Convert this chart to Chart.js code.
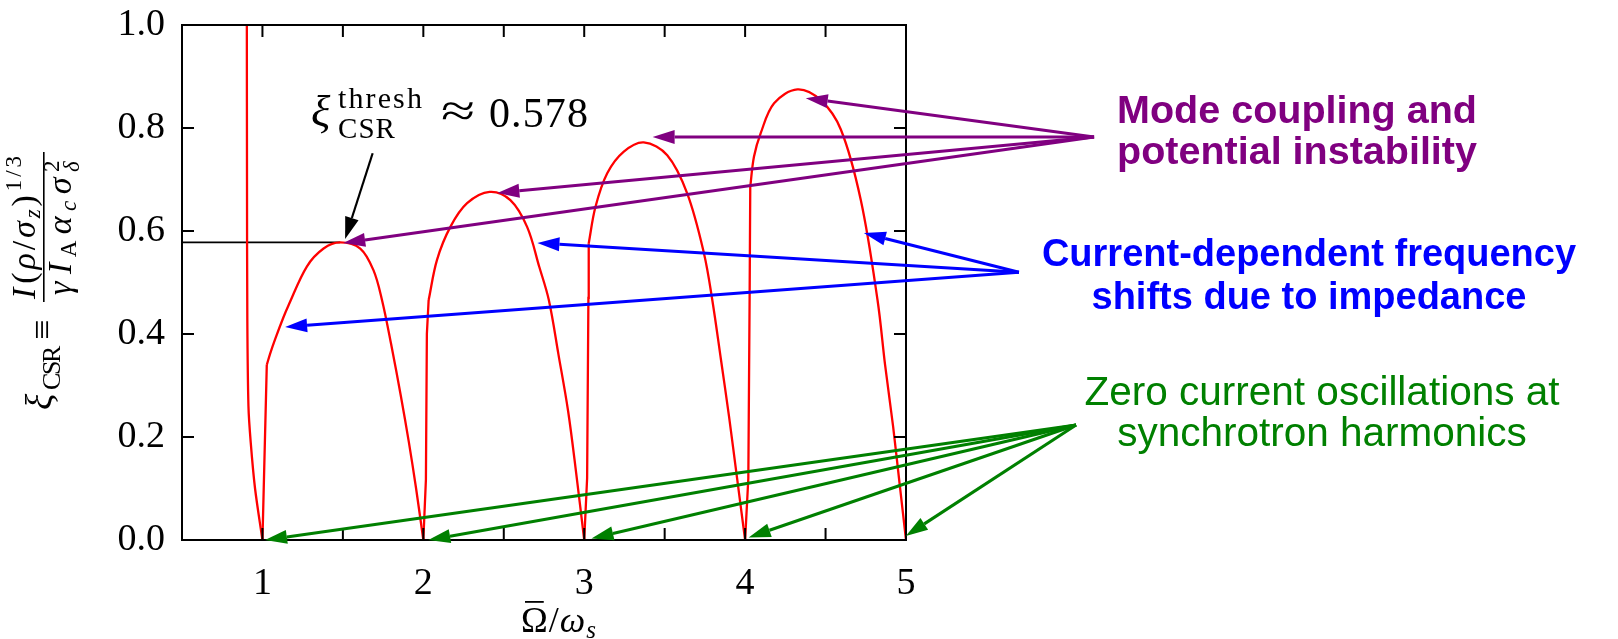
<!DOCTYPE html>
<html>
<head>
<meta charset="utf-8">
<script src="https://cdn.jsdelivr.net/npm/chart.js@4.4.1/dist/chart.umd.min.js"></script>
<style>
  html, body { margin: 0; padding: 0; background: #fff; }
  #wrap { width: 1618px; height: 639px; }
</style>
</head>
<body>
<div id="wrap"><canvas id="myChart" width="1618" height="639"></canvas></div>
<script>
// red curve (x = Omega/omega_s, y = xi_CSR)
// left branch coming down from the top
var branchX = [0.903, 0.904, 0.906, 0.913, 0.927, 0.954, 1.0];
var branchY = [1.0, 0.70, 0.43, 0.26, 0.19, 0.10, 0.0];
// near-vertical jumps at each harmonic (null = break)
var jumpX = [1.0, 1.027, null, 2.0, 2.016, 2.022, 2.033, null, 3.0, 3.018, 3.026, 3.028, null, 4.0, 4.02, 4.028, 4.032];
var jumpY = [0.0, 0.34, null, 0.0, 0.117, 0.40, 0.466, null, 0.0, 0.12, 0.47, 0.576, null, 0.0, 0.12, 0.47, 0.686];
// the four arcs
var arc1X = [1.027, 1.048, 1.079, 1.13, 1.161, 1.276, 1.38, 1.483, 1.608, 1.69, 1.743, 1.80, 1.86, 1.91, 1.955, 2.0];
var arc1Y = [0.34, 0.362, 0.39, 0.432, 0.455, 0.531, 0.566, 0.578, 0.566, 0.524, 0.466, 0.38, 0.28, 0.19, 0.10, 0.0];
var arc2X = [2.033, 2.085, 2.168, 2.272, 2.412, 2.541, 2.645, 2.72, 2.78, 2.84, 2.90, 2.95, 3.0];
var arc2Y = [0.466, 0.544, 0.608, 0.654, 0.676, 0.66, 0.608, 0.531, 0.466, 0.36, 0.25, 0.13, 0.0];
var arc3X = [3.028, 3.07, 3.143, 3.246, 3.37, 3.516, 3.64, 3.744, 3.796, 3.85, 3.90, 3.95, 4.0];
var arc3Y = [0.576, 0.647, 0.712, 0.754, 0.772, 0.747, 0.673, 0.557, 0.466, 0.35, 0.24, 0.12, 0.0];
var arc4X = [4.032, 4.055, 4.097, 4.18, 4.325, 4.47, 4.595, 4.719, 4.823, 4.87, 4.92, 4.96, 5.0];
var arc4Y = [0.686, 0.744, 0.79, 0.848, 0.875, 0.854, 0.797, 0.66, 0.466, 0.34, 0.22, 0.11, 0.0];

// threshold line
var threshX = [0.5, 1.483];
var threshY = [0.578, 0.578];

// arrows (data units), tail shared per group
var modeFrom = [6.169, 0.7825];
var modeToX = [1.502, 2.460, 3.425, 4.377];
var modeToY = [0.5767, 0.674, 0.7825, 0.858];
var shiftFrom = [5.702, 0.520];
var shiftToX = [1.141, 2.709, 4.738];
var shiftToY = [0.4136, 0.5767, 0.596];
var zeroFrom = [6.057, 0.2233];
var zeroToX = [1.016, 2.031, 3.045, 4.022, 4.999];
var zeroToY = [0.0, 0.0, 0.003, 0.005, 0.008];
var threshArrowX = [1.685, 1.514];
var threshArrowY = [0.751, 0.5845];

var serif = "'Liberation Serif'";
var sans = "'Liberation Sans'";

function pts(xs, ys) {
  return xs.map(function (x, i) { return x === null ? { x: null, y: null } : { x: x, y: ys[i] }; });
}

function redLine(xs, ys, tension) {
  return {
    data: pts(xs, ys),
    showLine: true,
    borderColor: '#ff0000',
    borderWidth: 2.3,
    pointRadius: 0,
    spanGaps: false,
    tension: tension
  };
}

function arrow(ctx, x1, y1, x2, y2, color, lw) {
  var head = 22, half = 7;
  var a = Math.atan2(y2 - y1, x2 - x1);
  var bx = x2 - head * Math.cos(a), by = y2 - head * Math.sin(a);
  ctx.strokeStyle = color;
  ctx.fillStyle = color;
  ctx.lineWidth = lw;
  ctx.beginPath();
  ctx.moveTo(x1, y1);
  ctx.lineTo(bx, by);
  ctx.stroke();
  ctx.beginPath();
  ctx.moveTo(x2, y2);
  ctx.lineTo(bx + half * Math.sin(a), by - half * Math.cos(a));
  ctx.lineTo(bx - half * Math.sin(a), by + half * Math.cos(a));
  ctx.closePath();
  ctx.fill();
}

// draw a run of text pieces; extra room up to targetW is spread between letters
function run(ctx, pieces, x, y, targetW) {
  var w = 0, n = 0;
  pieces.forEach(function (p) {
    ctx.font = p.f;
    p.w = ctx.measureText(p.t).width;
    if (!p.stack) { w += p.w + (p.gap || 0); n += p.t.length; }
  });
  var ls = targetW ? (targetW - w) / n : 0;
  var cx = 0, prevX = 0;
  pieces.forEach(function (p) {
    ctx.font = p.f;
    var px = p.stack ? prevX : cx + (p.gap || 0);
    var q = px;
    Array.from(p.t).forEach(function (c) {
      ctx.fillText(c, x + q, y + (p.dy || 0));
      q += ctx.measureText(c).width + ls;
    });
    if (!p.stack) cx = q;
    prevX = px;
  });
}

var decor = {
  id: 'decor',
  afterDatasetsDraw: function (chart) {
    var ctx = chart.ctx, a = chart.chartArea;
    var xs = chart.scales.x, ys = chart.scales.y;
    ctx.save();
    ctx.strokeStyle = '#000';
    ctx.lineWidth = 2;
    ctx.strokeRect(a.left, a.top, a.right - a.left, a.bottom - a.top);
    ctx.beginPath();
    xs.ticks.forEach(function (t) {
      var p = xs.getPixelForValue(t.value);
      ctx.moveTo(p, a.bottom); ctx.lineTo(p, a.bottom - 12);
      ctx.moveTo(p, a.top); ctx.lineTo(p, a.top + 12);
    });
    ys.ticks.forEach(function (t) {
      var p = ys.getPixelForValue(t.value);
      ctx.moveTo(a.left, p); ctx.lineTo(a.left + 12, p);
      ctx.moveTo(a.right, p); ctx.lineTo(a.right - 12, p);
    });
    ctx.stroke();
    ctx.restore();
  },
  afterDraw: function (chart) {
    var ctx = chart.ctx;
    var xs = chart.scales.x, ys = chart.scales.y;
    var X = function (v) { return xs.getPixelForValue(v); };
    var Y = function (v) { return ys.getPixelForValue(v); };
    ctx.save();
    ctx.lineCap = 'butt';

    modeToX.forEach(function (v, i) {
      arrow(ctx, X(modeFrom[0]), Y(modeFrom[1]), X(v), Y(modeToY[i]), '#800080', 3);
    });
    shiftToX.forEach(function (v, i) {
      arrow(ctx, X(shiftFrom[0]), Y(shiftFrom[1]), X(v), Y(shiftToY[i]), '#0000ff', 3);
    });
    zeroToX.forEach(function (v, i) {
      arrow(ctx, X(zeroFrom[0]), Y(zeroFrom[1]), X(v), Y(zeroToY[i]), '#008000', 3);
    });
    arrow(ctx, X(threshArrowX[0]), Y(threshArrowY[0]), X(threshArrowX[1]), Y(threshArrowY[1]), '#000', 2.2);

    // side notes
    ctx.textAlign = 'center';
    ctx.textBaseline = 'alphabetic';
    ctx.fillStyle = '#800080';
    ctx.font = 'bold 39.5px ' + sans;
    ctx.fillText('Mode coupling and', 1297, 123);
    ctx.fillText('potential instability', 1297, 164);
    ctx.fillStyle = '#0000ff';
    ctx.font = 'bold 38px ' + sans;
    ctx.fillText('Current-dependent frequency', 1309, 266);
    ctx.fillText('shifts due to impedance', 1309, 309);
    ctx.fillStyle = '#008000';
    ctx.font = '40.5px ' + sans;
    ctx.fillText('Zero current oscillations at', 1322, 405);
    ctx.fillText('synchrotron harmonics', 1322, 446);

    // threshold label
    ctx.textAlign = 'left';
    ctx.fillStyle = '#000';
    run(ctx, [{ t: 'ξ', f: 'italic 45px ' + serif }], 311, 126);
    run(ctx, [{ t: 'thresh', f: '30px ' + serif }], 338, 108, 86);
    run(ctx, [{ t: 'CSR', f: '29px ' + serif }], 338, 138, 58);
    ctx.save();
    ctx.font = '46px ' + serif;
    ctx.translate(441, 126);
    ctx.scale(34 / ctx.measureText('≈').width, 1);
    ctx.fillText('≈', 0, 0);
    ctx.restore();
    run(ctx, [{ t: '0.578', f: '42px ' + serif }], 489, 127, 100);

    // x axis title
    var ox = 521, oy = 632;
    ctx.font = '36px ' + serif;
    var ow = ctx.measureText('Ω').width;
    ctx.fillText('Ω', ox, oy);
    ctx.fillRect(ox + 4, oy - 31, ow - 8, 1.8);
    run(ctx, [
      { t: '/', f: '36px ' + serif },
      { t: 'ω', f: 'italic 36px ' + serif, gap: 1 },
      { t: 's', f: 'italic 25px ' + serif, dy: 6, gap: 1 }
    ], ox + ow + 1, oy);

    // y axis title, rotated
    ctx.translate(0, 410);
    ctx.rotate(-Math.PI / 2);
    run(ctx, [{ t: 'ξ', f: 'italic 38px ' + serif }], 0, 52);
    run(ctx, [{ t: 'CSR', f: '26px ' + serif }], 20, 60, 42);
    run(ctx, [{ t: '≡', f: '36px ' + serif }], 70, 54);
    ctx.fillRect(108, 43, 150, 1.6);
    run(ctx, [
      { t: 'I', f: 'italic 34px ' + serif },
      { t: '(', f: '34px ' + serif, gap: 1 },
      { t: 'ρ', f: 'italic 34px ' + serif },
      { t: '/', f: '34px ' + serif },
      { t: 'σ', f: 'italic 34px ' + serif },
      { t: 'z', f: 'italic 23px ' + serif, dy: 5 },
      { t: ')', f: '34px ' + serif },
      { t: '1/3', f: '23px ' + serif, dy: -14, gap: 1 }
    ], 111, 35, 146);
    run(ctx, [
      { t: 'γ', f: 'italic 34px ' + serif },
      { t: 'I', f: 'italic 34px ' + serif, gap: 2 },
      { t: 'A', f: '23px ' + serif, dy: 5 },
      { t: 'α', f: 'italic 34px ' + serif, gap: 1 },
      { t: 'c', f: 'italic 23px ' + serif, dy: 5 },
      { t: 'σ', f: 'italic 34px ' + serif, gap: 1 },
      { t: '2', f: '23px ' + serif, dy: -12 },
      { t: 'δ', f: 'italic 23px ' + serif, dy: 8, stack: true }
    ], 115, 71, 140);
    ctx.restore();
  }
};

var ctx = document.getElementById('myChart').getContext('2d');

var chart = new Chart(ctx, {
  type: 'scatter',
  data: {
    datasets: [
      redLine(branchX, branchY, 0.3),
      redLine(jumpX, jumpY, 0),
      redLine(arc1X, arc1Y, 0.35),
      redLine(arc2X, arc2Y, 0.35),
      redLine(arc3X, arc3Y, 0.35),
      redLine(arc4X, arc4Y, 0.35),
      {
        label: 'thresh',
        data: pts(threshX, threshY),
        showLine: true,
        borderColor: '#000000',
        borderWidth: 1.6,
        pointRadius: 0
      }
    ]
  },
  options: {
    responsive: false,
    animation: false,
    events: [],
    layout: { padding: { left: 0, right: 712, top: 25, bottom: 0 } },
    plugins: { legend: { display: false }, tooltip: { enabled: false } },
    scales: {
      x: {
        type: 'linear',
        min: 0.5,
        max: 5,
        grid: { display: false, drawTicks: false },
        border: { display: false },
        ticks: {
          stepSize: 0.5,
          autoSkip: false,
          maxRotation: 0,
          padding: 21,
          color: '#000',
          font: { family: serif, size: 38 },
          callback: function (v) {
            return Math.abs(v - Math.round(v)) < 1e-9 ? String(Math.round(v)) : '';
          }
        },
        afterFit: function (s) {
          s.height = 99;
          s.paddingLeft = 0;
          s.paddingRight = 0;
        }
      },
      y: {
        min: 0,
        max: 1,
        grid: { display: false, drawTicks: false },
        border: { display: false },
        ticks: {
          stepSize: 0.2,
          padding: 17,
          color: '#000',
          font: { family: serif, size: 38 },
          callback: function (v) { return v.toFixed(1); }
        },
        afterFit: function (s) {
          s.width = 182;
          s.paddingTop = 0;
          s.paddingBottom = 0;
        }
      }
    }
  },
  plugins: [decor]
});
</script>
</body>
</html>
